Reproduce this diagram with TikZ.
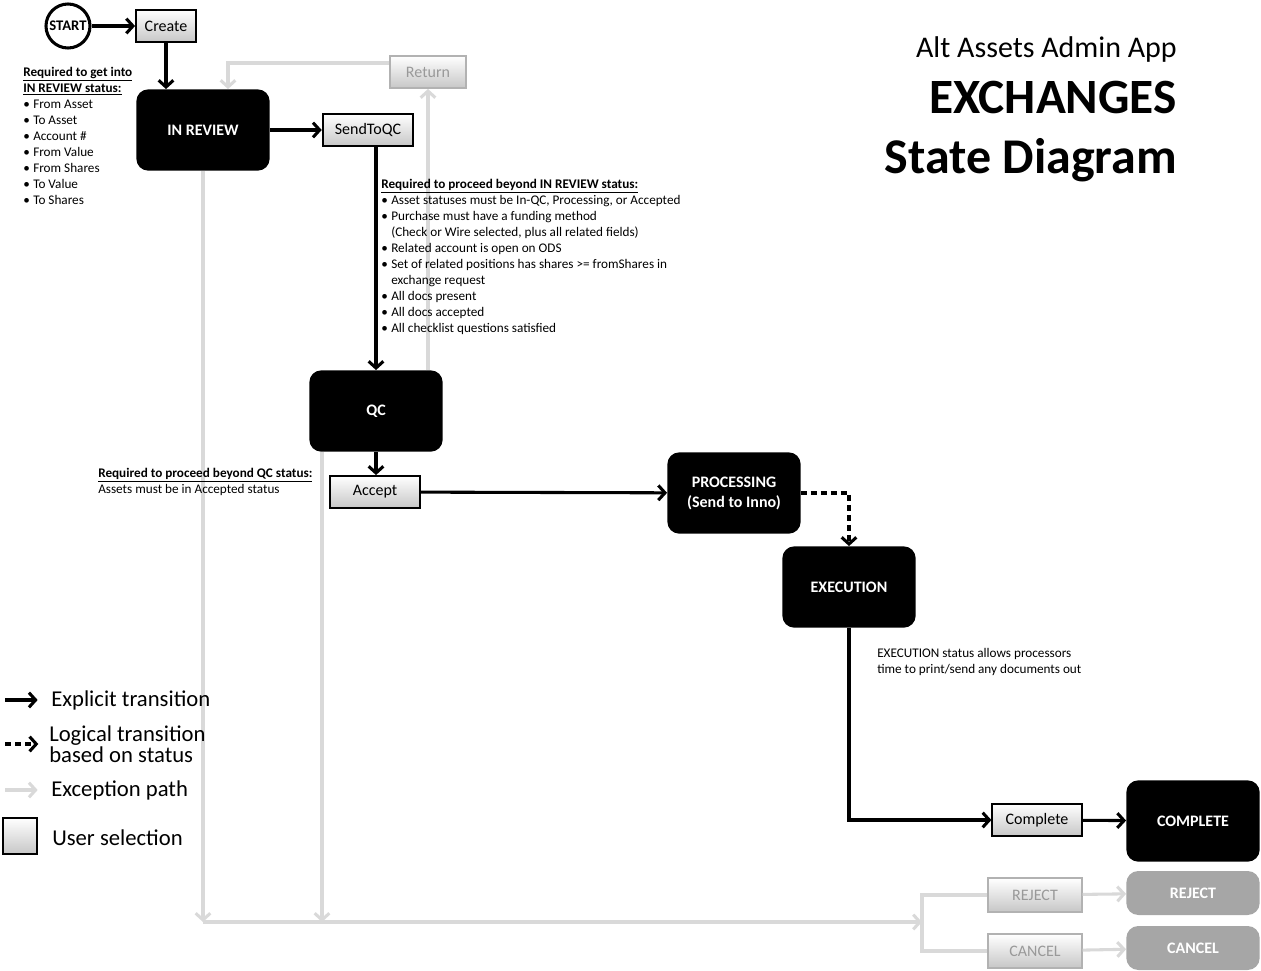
\documentclass[tikz,border=0pt]{standalone}
\usepackage{fontspec}
\setmainfont{Carlito}
\usetikzlibrary{arrows.meta}

\newcommand{\bulletitem}{\makebox[7.5pt][l]{\textbullet}}
\newcommand{\bulletgap}{\hspace*{7.5pt}}

\begin{document}
\begin{tikzpicture}[x=0.75pt,y=-0.75pt,>={Straight Barb[length=5pt,width=11pt]}]
    \tikzstyle{state}=[rectangle,rounded corners=9pt,fill=black,text=white,font=\bfseries\fontsize{12}{15}\selectfont,minimum width=100pt,minimum height=61pt,align=center,inner sep=0pt]
    \tikzstyle{dead}=[state,fill=black!35,minimum height=33pt]
    \tikzstyle{choice}=[rectangle,draw=black,line width=1.4pt,top color=white,bottom color=black!22,font=\fontsize{12}{14}\selectfont,minimum width=67pt,minimum height=24pt,inner sep=0pt]
    \tikzstyle{nochoice}=[choice,draw=black!30,text=black!40,minimum width=70pt,minimum height=25pt]
    \tikzstyle{note}=[align=left,anchor=north west,font=\fontsize{9.9}{12}\selectfont,inner sep=0pt]
    \tikzstyle{legend}=[anchor=west,align=left,font=\fontsize{17}{16}\selectfont,inner sep=0pt]
    \tikzstyle{explicit}=[->,draw=black,line width=2.3pt]
    \tikzstyle{logical}=[->,draw=black,line width=2.3pt,dash pattern=on 4.5pt off 3pt]
    \tikzstyle{exception}=[->,draw=black!15,line width=2.3pt]

    \useasboundingbox (0,0) rectangle (1261,971);

    % states
    \foreach \name/\x/\y/\lbl in {review/203/130/IN REVIEW, qc/376/411/QC, processing/734/493/{PROCESSING\\(Send to Inno)}, execution/849/587/EXECUTION, complete/1193/821/COMPLETE}
        \node[state] (S-\name) at (\x,\y) {\lbl};
    \node[dead] (S-reject) at (1193,893) {REJECT};
    \node[dead] (S-cancel) at (1193,948) {CANCEL};
    \node[circle,draw=black,line width=2.3pt,minimum size=33pt,inner sep=0pt,font=\bfseries\fontsize{11}{13}\selectfont] (start) at (68,26) {START};

    % user selections
    \foreach \name/\x/\y/\w/\lbl in {create/166/26/45/Create, sendtoqc/368/130/68/SendToQC, accept/375/492/67/Accept, done/1037/820/67/Complete}
        \node[choice,minimum width=\w pt] (U-\name) at (\x,\y) {\lbl};
    \node[nochoice,minimum width=57pt,minimum height=24pt] (U-return) at (428,72) {Return};
    \node[nochoice] (U-reject) at (1035,895) {REJECT};
    \node[nochoice] (U-cancel) at (1035,951) {CANCEL};

    % explicit and logical transitions
    \draw[explicit] (start) -- (U-create);
    \draw[explicit] (U-create.south) -- (U-create.south |- S-review.north);
    \draw[explicit] (S-review) -- (U-sendtoqc);
    \draw[explicit] (S-qc.north |- U-sendtoqc.south) -- (S-qc.north);
    \draw[explicit] (S-qc.south) -- (S-qc.south |- U-accept.north);
    \draw[explicit] (U-accept) -- (S-processing);
    \draw[logical] (S-processing.east) -| (S-execution.north);
    \draw[explicit] (S-execution.south) |- (U-done.west);
    \draw[explicit] (U-done) -- (S-complete);

    % exception paths
    \coordinate (E-left) at (203,922);
    \coordinate (E-mid) at (322,922);
    \coordinate (E-fork) at (922,922);
    \coordinate (R-corner) at (228,63);
    \draw[exception] (S-review.south) -- (E-left);
    \draw[exception] (E-mid |- S-qc.south) -- (E-mid);
    \draw[exception] (E-left) -- (E-fork);
    \draw[draw=black!15,line width=2.3pt] (U-reject.west) -| (E-fork) |- (U-cancel.west);
    \draw[exception] (U-reject) -- (S-reject);
    \draw[exception] (U-cancel) -- (S-cancel);
    \draw[exception] (U-return.south |- S-qc.north) -- (U-return.south);
    \draw[exception] (U-return.west |- R-corner) -- (R-corner) -- (R-corner |- S-review.north);

    % notes
    \node[note] (N-review) at (23,67) {\textbf{\underline{Required to get into}}\\
        \textbf{\underline{IN REVIEW status:}}\\
        \bulletitem From Asset\\ \bulletitem To Asset\\ \bulletitem Account \#\\
        \bulletitem From Value\\ \bulletitem From Shares\\ \bulletitem To Value\\ \bulletitem To Shares};
    \node[note] (N-proceed) at (381,179) {\textbf{\underline{Required to proceed beyond IN REVIEW status:}}\\
        \bulletitem Asset statuses must be In-QC, Processing, or Accepted\\
        \bulletitem Purchase must have a funding method\\
        \bulletgap (Check or Wire selected, plus all related fields)\\
        \bulletitem Related account is open on ODS\\
        \bulletitem Set of related positions has shares >= fromShares in\\
        \bulletgap exchange request\\
        \bulletitem All docs present\\
        \bulletitem All docs accepted\\
        \bulletitem All checklist questions satisfied};
    \node[note] (N-qc) at (98,468) {\textbf{\underline{Required to proceed beyond QC status:}}\\
        Assets must be in Accepted status};
    \node[note] (N-execution) at (877,648) {EXECUTION status allows processors\\
        time to print/send any documents out};

    % title
    \node[anchor=base east,inner sep=0pt,font=\fontsize{22.5}{26}\selectfont] (T-app) at (1177,57) {Alt Assets Admin App};
    \node[anchor=base east,inner sep=0pt,font=\bfseries\fontsize{37}{40}\selectfont] (T-exchanges) at (1177,113) {EXCHANGES};
    \node[anchor=base east,inner sep=0pt,font=\bfseries\fontsize{37.5}{40}\selectfont] (T-diagram) at (1177,173) {State Diagram};

    % legend
    \node[legend] (L-explicit) at (51,700) {Explicit transition};
    \node[legend] (L-logical) at (49,744) {Logical transition\\based on status};
    \node[legend] (L-exception) at (51,790) {Exception path};
    \node[legend] (L-user) at (52,838) {User selection};
    \coordinate (K-explicit) at (5,700);
    \coordinate (K-logical) at (5,744);
    \coordinate (K-exception) at (5,790);
    \draw[explicit] (K-explicit) -- ([xshift=-10pt]L-explicit.west);
    \draw[logical] (K-logical) -- ([xshift=-8pt]L-logical.west);
    \draw[exception] (K-exception) -- ([xshift=-10pt]L-exception.west);
    \node[choice,minimum width=25pt,minimum height=27pt] (K-user) at (20,836) {};
\end{tikzpicture}
\end{document}
